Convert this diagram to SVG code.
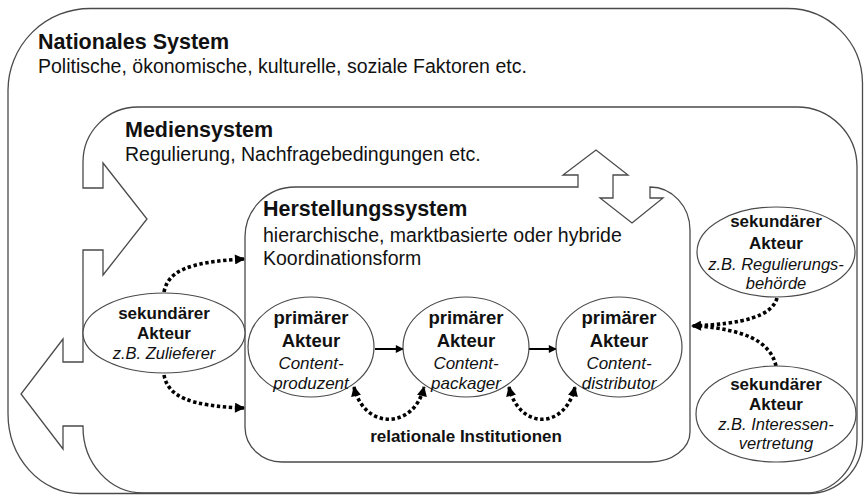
<svg xmlns="http://www.w3.org/2000/svg" width="864" height="496" viewBox="0 0 864 496">
  <style>
    .frame { fill: none; stroke: #4a4a4a; stroke-width: 1.3; }
    .actor { fill: #fff; stroke: #4a4a4a; stroke-width: 1.2; }
    text { font-family: "Liberation Sans", Arial, sans-serif; fill: #111; }
    .title { font-size: 21.5px; font-weight: bold; }
    .sub { font-size: 19.5px; }
    .b2 { font-size: 18.5px; font-weight: bold; text-anchor: middle; }
    .i2 { font-size: 17px; font-style: italic; text-anchor: middle; }
    .b1 { font-size: 17px; font-weight: bold; text-anchor: middle; }
    .i1 { font-size: 16.5px; font-style: italic; text-anchor: middle; }
    .dots { fill: none; stroke: #000; stroke-width: 3.6; stroke-dasharray: 3.4 2.6; }
    .flow { fill: none; stroke: #000; stroke-width: 2; }
  </style>
  <defs>
    <marker id="head" viewBox="0 0 10 10" refX="9" refY="5" markerWidth="11" markerHeight="10" markerUnits="userSpaceOnUse" orient="auto-start-reverse">
      <path d="M0,0 L10,5 L0,10 Z" fill="#000"/>
    </marker>
    <marker id="small" viewBox="0 0 10 10" refX="9" refY="5" markerWidth="9" markerHeight="8" markerUnits="userSpaceOnUse" orient="auto">
      <path d="M0,0 L10,5 L0,10 Z" fill="#000"/>
    </marker>
  </defs>

  <!-- national system frame -->
  <g id="nationales-system">
    <path class="frame" d="M90,8.5 H787 A75,75 0 0 1 862.5,83 V440 A54,54 0 0 1 808,493.5 H80 A72,80 0 0 1 8,413 V90 A82,82 0 0 1 90,8.5 Z"/>
    <text class="title" x="38" y="49">Nationales System</text>
    <text class="sub" x="38" y="73">Politische, ökonomische, kulturelle, soziale Faktoren etc.</text>
  </g>

  <!-- media system frame with the two-way exchange arrow on its left side -->
  <g id="mediensystem">
    <path class="frame" d="M138,107 H797 A60,60 0 0 1 857,167 V438 A52,55 0 0 1 805,493 H143 A60,66 0 0 1 83,427 V426 H63 V449 L21,394 L63,339 V362 H83 V250 H103 V275 L147,219 L103,163 V188 H83 V162 A55,55 0 0 1 138,107 Z"/>
    <text class="title" x="125" y="137">Mediensystem</text>
    <text class="sub" x="125" y="161">Regulierung, Nachfragebedingungen etc.</text>
  </g>

  <!-- production system frame with the vertical two-way arrow -->
  <g id="herstellungssystem">
    <path class="frame" d="M295,187 H578 V175 H563 L596,150 L628,175 H613 V198 H600 L632,223 L663,198 H650 V187 A40,43 0 0 1 690,230 V432 A40,30 0 0 1 650,462 H282 A37,35 0 0 1 245,427 V237 A50,50 0 0 1 295,187 Z"/>
    <text class="title" x="263" y="216">Herstellungssystem</text>
    <text class="sub" x="263" y="242">hierarchische, marktbasierte oder hybride</text>
    <text class="sub" x="263" y="265">Koordinationsform</text>
  </g>

  <!-- connectors -->
  <g id="connectors">
    <line class="flow" x1="375" y1="349" x2="403" y2="349" marker-end="url(#small)"/>
    <line class="flow" x1="529" y1="349" x2="556" y2="349" marker-end="url(#small)"/>
    <path class="dots" d="M164,292 C168,272 186,262 244,259" marker-end="url(#head)"/>
    <path class="dots" d="M164,375 C168,396 188,406 244,408" marker-end="url(#head)"/>
    <path class="dots" d="M354,387 C364,430 414,430 424,387" marker-start="url(#head)" marker-end="url(#head)"/>
    <path class="dots" d="M509,387 C519,430 565,430 575,387" marker-start="url(#head)" marker-end="url(#head)"/>
    <path class="dots" d="M777,298 C772,316 744,324 692,326" marker-end="url(#head)"/>
    <path class="dots" d="M776,366 C770,340 742,330 700,326"/>
    <text class="b1" x="466" y="442">relationale Institutionen</text>
  </g>

  <g id="zulieferer">
    <ellipse class="actor" cx="164" cy="333" rx="81" ry="40"/>
    <text class="b1" x="164" y="319">sekundärer</text>
    <text class="b1" x="164" y="339">Akteur</text>
    <text class="i1" x="164" y="359">z.B. Zulieferer</text>
  </g>

  <g id="contentproduzent">
    <ellipse class="actor" cx="311" cy="347" rx="63" ry="50"/>
    <text class="b2" x="311" y="324">primärer</text>
    <text class="b2" x="311" y="347">Akteur</text>
    <text class="i2" x="311" y="369">Content-</text>
    <text class="i2" x="311" y="389">produzent</text>
  </g>

  <g id="contentpackager">
    <ellipse class="actor" cx="466" cy="347" rx="63" ry="50"/>
    <text class="b2" x="466" y="324">primärer</text>
    <text class="b2" x="466" y="347">Akteur</text>
    <text class="i2" x="466" y="369">Content-</text>
    <text class="i2" x="466" y="389">packager</text>
  </g>

  <g id="contentdistributor">
    <ellipse class="actor" cx="619" cy="347" rx="63" ry="50"/>
    <text class="b2" x="619" y="324">primärer</text>
    <text class="b2" x="619" y="347">Akteur</text>
    <text class="i2" x="619" y="369">Content-</text>
    <text class="i2" x="619" y="389">distributor</text>
  </g>

  <g id="regulierungsbehoerde">
    <ellipse class="actor" cx="776" cy="252" rx="79" ry="45"/>
    <text class="b1" x="776" y="227">sekundärer</text>
    <text class="b1" x="776" y="249">Akteur</text>
    <text class="i1" x="776" y="270">z.B. Regulierungs-</text>
    <text class="i1" x="776" y="289">behörde</text>
  </g>

  <g id="interessenvertretung">
    <ellipse class="actor" cx="776" cy="414" rx="80" ry="48"/>
    <text class="b1" x="776" y="390">sekundärer</text>
    <text class="b1" x="776" y="410">Akteur</text>
    <text class="i1" x="776" y="430">z.B. Interessen-</text>
    <text class="i1" x="776" y="449">vertretung</text>
  </g>
</svg>
